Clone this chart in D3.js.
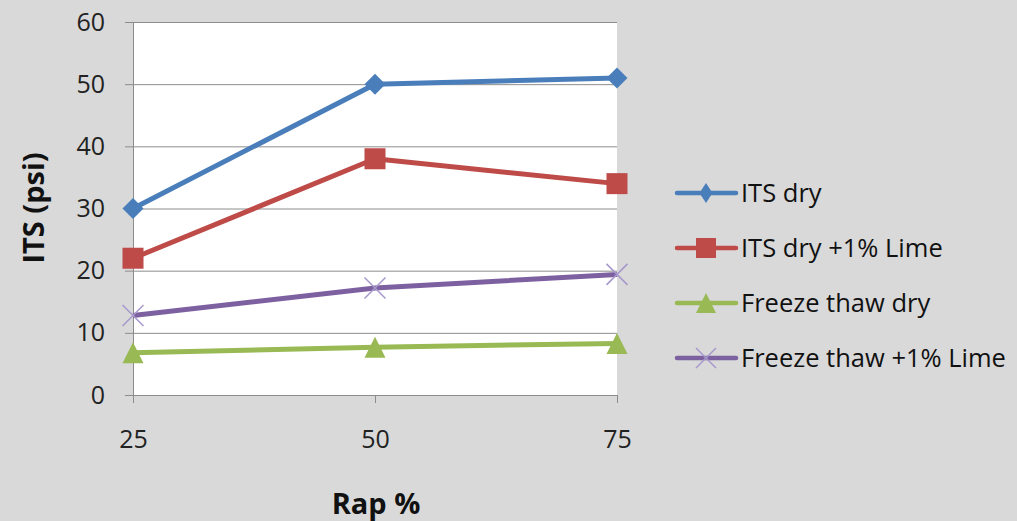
<!DOCTYPE html>
<html>
<head>
<meta charset="utf-8">
<script src="https://cdn.jsdelivr.net/npm/d3@7"></script>
<style>
  html, body { margin: 0; padding: 0; background: #d9d9d9; }
  svg { display: block; font-family: "Open Sans", sans-serif; }
</style>
</head>
<body>
<svg id="chart" width="1017" height="521"></svg>
<script>
// Rap content (%) on the x axis
const rapPercent = [25, 50, 75];
// Indirect tensile strength values (psi)
const itsDry = [30, 50, 51];
const itsDryLime = [22, 38, 34];
const freezeThawDry = [6.8, 7.7, 8.3];
const freezeThawLime = [12.8, 17.2, 19.4];
const yTicks = [0, 10, 20, 30, 40, 50, 60];

const seriesNames = ["ITS dry", "ITS dry +1% Lime", "Freeze thaw dry", "Freeze thaw +1% Lime"];
const seriesValues = [itsDry, itsDryLime, freezeThawDry, freezeThawLime];
const seriesColors = ["#4a7ebb", "#be4b48", "#98b954", "#7d60a0"];
const seriesMarkers = ["diamond", "square", "triangle", "cross"];

const FONT = "'Open Sans', sans-serif";
const svg = d3.select("#chart");
const plot = { left: 133, top: 22, right: 617, bottom: 395 };

const x = d3.scalePoint().domain(rapPercent).range([plot.left, plot.right]);
const y = d3.scaleLinear().domain([0, 60]).range([plot.bottom, plot.top]);

// Plot area
svg.append("rect")
  .attr("x", plot.left).attr("y", plot.top)
  .attr("width", plot.right - plot.left).attr("height", plot.bottom - plot.top)
  .attr("fill", "#ffffff");

// Horizontal gridlines + y axis
const yAxis = d3.axisLeft(y).tickValues(yTicks).tickSize(8).tickPadding(20);
const gy = svg.append("g").attr("transform", `translate(${plot.left},0)`).call(yAxis);
gy.select(".domain").attr("stroke", "#8c8c8c");
gy.selectAll(".tick line").attr("stroke", "#8c8c8c");
gy.selectAll(".tick text").attr("font-size", 25).attr("fill", "#222").attr("font-family", FONT);
gy.selectAll(".tick").append("line")
  .attr("x1", 0).attr("x2", plot.right - plot.left)
  .attr("stroke", "#8c8c8c").attr("stroke-width", 1);

// x axis
const xAxis = d3.axisBottom(x).tickSize(8).tickPadding(27);
const gx = svg.append("g").attr("transform", `translate(0,${plot.bottom})`).call(xAxis);
gx.select(".domain").attr("stroke", "#8c8c8c").attr("d", `M${plot.left},0.5H${plot.right}`);
gx.selectAll(".tick line").attr("stroke", "#8c8c8c");
gx.selectAll(".tick text").attr("font-size", 25).attr("fill", "#222").attr("font-family", FONT);

// Axis titles
svg.append("text")
  .attr("transform", "translate(44,208) rotate(-90)")
  .attr("text-anchor", "middle")
  .attr("font-size", 29).attr("font-weight", "bold").attr("fill", "#111")
  .text("ITS (psi)");
svg.append("text")
  .attr("x", 376).attr("y", 514)
  .attr("text-anchor", "middle")
  .attr("font-size", 29).attr("font-weight", "bold").attr("fill", "#111")
  .text("Rap %");

// Marker drawing
function drawMarker(g, type, color, w, h) {
  if (type === "diamond") {
    g.append("path").attr("d", `M0,${-h/2}L${w/2},0L0,${h/2}L${-w/2},0Z`).attr("fill", color);
  } else if (type === "square") {
    g.append("rect").attr("x", -w/2).attr("y", -h/2).attr("width", w).attr("height", h).attr("fill", color);
  } else if (type === "triangle") {
    g.append("path").attr("d", `M0,${-h/2}L${w/2},${h/2}L${-w/2},${h/2}Z`).attr("fill", color);
  } else if (type === "cross") {
    g.append("path").attr("d", `M${-w/2},${-h/2}L${w/2},${h/2}M${w/2},${-h/2}L${-w/2},${h/2}`)
      .attr("stroke", "#a798cc").attr("stroke-width", 1.5).attr("fill", "none");
  }
}

const line = d3.line().x((d, i) => x(rapPercent[i])).y(d => y(d));

seriesValues.forEach((vals, s) => {
  const g = svg.append("g");
  g.append("path").datum(vals)
    .attr("d", line)
    .attr("fill", "none")
    .attr("stroke", seriesColors[s])
    .attr("stroke-width", 5)
    .attr("stroke-linejoin", "round");
  vals.forEach((v, i) => {
    const m = g.append("g").attr("transform", `translate(${x(rapPercent[i])},${y(v)})`);
    drawMarker(m, seriesMarkers[s], seriesColors[s], 21, 21);
  });
});

// Legend
const legend = svg.append("g");
seriesNames.forEach((name, s) => {
  const cy = 193 + s * 55;
  const row = legend.append("g");
  row.append("line")
    .attr("x1", 677).attr("x2", 736).attr("y1", cy).attr("y2", cy)
    .attr("stroke", seriesColors[s]).attr("stroke-width", 4.5).attr("stroke-linecap", "round");
  const m = row.append("g").attr("transform", `translate(706,${cy})`);
  if (seriesMarkers[s] === "diamond") drawMarker(m, "diamond", seriesColors[s], 13, 20);
  else drawMarker(m, seriesMarkers[s], seriesColors[s], 20, 20);
  row.append("text")
    .attr("x", 741).attr("y", cy).attr("dy", "0.35em")
    .attr("font-size", 25.5).attr("fill", "#111").attr("font-family", FONT)
    .text(name);
});
</script>
</body>
</html>
